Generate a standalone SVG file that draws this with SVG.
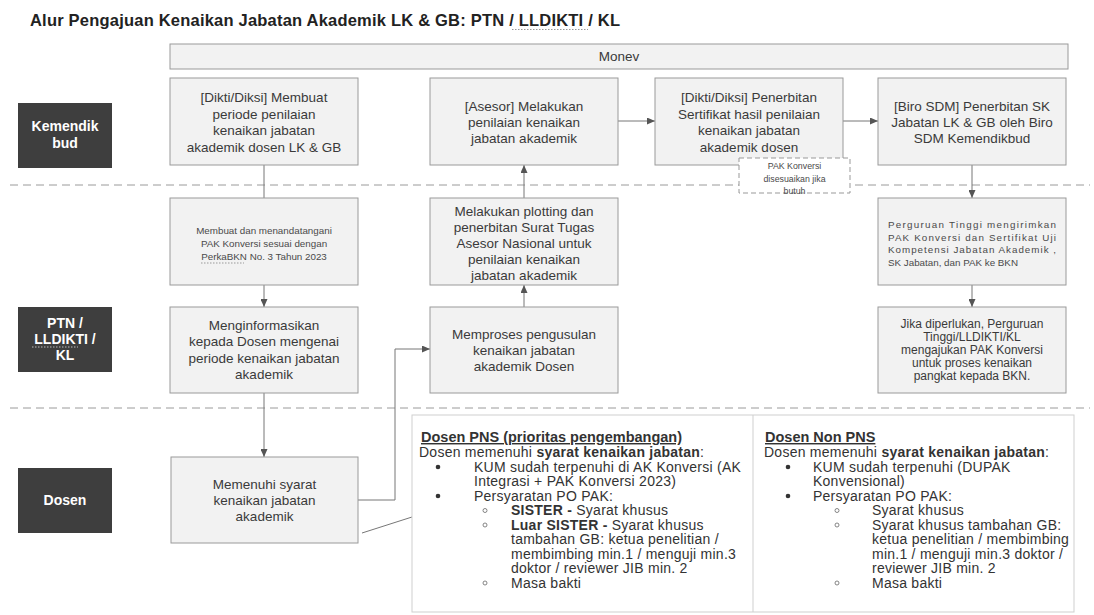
<svg xmlns="http://www.w3.org/2000/svg" width="1094" height="615" viewBox="0 0 1094 615">
<style>
text{font-family:"Liberation Sans",Arial,sans-serif;fill:#3a3a3a}
.title{font-size:16.5px;font-weight:bold;fill:#222}
.box{fill:#f2f2f2;stroke:#9a9a9a;stroke-width:1}
.t{font-size:13.5px;text-anchor:middle}
.s{font-size:9.8px;fill:#4a4a4a}
.sc{font-size:9.8px;fill:#4a4a4a;text-anchor:middle}
.m{font-size:12px;text-anchor:middle}
.lane{fill:#3e3e3e}
.lt{font-size:14px;font-weight:bold;fill:#fff;text-anchor:middle}
.sep{stroke:#9a9a9a;stroke-width:1;stroke-dasharray:8 5;fill:none}
.con{stroke:#777;stroke-width:1;fill:none}
.b{font-size:14px;fill:#333;letter-spacing:0.25px}
.h{font-size:14.5px;font-weight:bold;fill:#333;text-decoration:underline}
.bd{font-weight:bold}
.sq{stroke:#999;stroke-width:1;stroke-dasharray:1.5 1.5;fill:none}
</style>
<defs>
<marker id="ah" markerWidth="8" markerHeight="7" refX="8" refY="3.5" orient="auto" markerUnits="userSpaceOnUse">
<path d="M0,0 L8,3.5 L0,7 z" fill="#555"/>
</marker>
</defs>
<rect width="1094" height="615" fill="#fff"/>
<text class="title" x="30" y="26" textLength="590" lengthAdjust="spacing">Alur Pengajuan Kenaikan Jabatan Akademik LK &amp; GB: PTN / LLDIKTI / KL</text>
<path class="sq" d="M512,29.5 H588"/>

<g id="separators">
<line class="sep" x1="10" y1="185" x2="1090" y2="185"/>
<line class="sep" x1="10" y1="408" x2="1090" y2="408"/>
</g>

<g id="lane-kemendikbud">
<rect class="lane" x="18" y="103" width="94" height="65"/>
<text class="lt" x="65" y="131">Kemendik</text>
<text class="lt" x="65" y="148">bud</text>
</g>
<g id="lane-ptn">
<rect class="lane" x="18" y="307" width="94" height="65"/>
<text class="lt" x="65" y="328">PTN /</text>
<text class="lt" x="65" y="344">LLDIKTI /</text>
<text class="lt" x="65" y="360">KL</text>
<path d="M32,347 H78" stroke="#bbb" stroke-width="1" stroke-dasharray="1.5 1.5"/>
</g>
<g id="lane-dosen">
<rect class="lane" x="18" y="468" width="94" height="65"/>
<text class="lt" x="65" y="505">Dosen</text>
</g>

<g id="connectors">
<line class="con" x1="264" y1="165" x2="264" y2="198"/>
<line class="con" x1="264" y1="285" x2="264" y2="307" marker-end="url(#ah)"/>
<line class="con" x1="264" y1="393" x2="264" y2="457" marker-end="url(#ah)"/>
<polyline class="con" points="358,500 395,500 395,349 430,349" marker-end="url(#ah)"/>
<line class="con" x1="524" y1="307" x2="524" y2="285" marker-end="url(#ah)"/>
<line class="con" x1="524" y1="198" x2="524" y2="165" marker-end="url(#ah)"/>
<line class="con" x1="618" y1="121" x2="655" y2="121" marker-end="url(#ah)"/>
<line class="con" x1="843" y1="121" x2="878" y2="121" marker-end="url(#ah)"/>
<line class="con" x1="972" y1="165" x2="972" y2="198" marker-end="url(#ah)"/>
<line class="con" x1="972" y1="285" x2="972" y2="307" marker-end="url(#ah)"/>
<line class="con" x1="362" y1="533" x2="412" y2="517"/>
</g>

<g id="monev">
<rect class="box" x="170" y="44" width="898" height="25"/>
<text class="t" x="619" y="61">Monev</text>
</g>

<g id="n-dikti-periode">
<rect class="box" x="170" y="78" width="188" height="87"/>
<text class="t" x="264" y="102">[Dikti/Diksi] Membuat</text>
<text class="t" x="264" y="118.5">periode penilaian</text>
<text class="t" x="264" y="135">kenaikan jabatan</text>
<text class="t" x="264" y="151.5">akademik dosen LK &amp; GB</text>
</g>
<g id="n-asesor">
<rect class="box" x="430" y="78" width="188" height="87"/>
<text class="t" x="524" y="110.5">[Asesor] Melakukan</text>
<text class="t" x="524" y="126.5">penilaian kenaikan</text>
<text class="t" x="524" y="142.5">jabatan akademik</text>
</g>
<g id="n-sertifikat">
<rect class="box" x="655" y="78" width="188" height="87"/>
<text class="t" x="749" y="102">[Dikti/Diksi] Penerbitan</text>
<text class="t" x="749" y="118.5">Sertifikat hasil penilaian</text>
<text class="t" x="749" y="135">kenaikan jabatan</text>
<text class="t" x="749" y="151.5">akademik dosen</text>
</g>
<g id="n-biro">
<rect class="box" x="878" y="78" width="188" height="87"/>
<text class="t" x="972" y="110.5">[Biro SDM] Penerbitan SK</text>
<text class="t" x="972" y="126.5">Jabatan LK &amp; GB oleh Biro</text>
<text class="t" x="972" y="142.5">SDM Kemendikbud</text>
</g>
<g id="n-pak-note">
<rect x="739" y="158" width="111" height="35" fill="#fff" stroke="#999" stroke-width="1" stroke-dasharray="5 3"/>
<text class="sc" x="794.5" y="169" style="font-size:8.8px">PAK Konversi</text>
<text class="sc" x="794.5" y="181.5" style="font-size:8.8px">disesuaikan jika</text>
<text class="sc" x="794.5" y="194" style="font-size:8.8px">butuh</text>
</g>

<g id="n-membuat-pak">
<rect class="box" x="170" y="198" width="188" height="87"/>
<text class="sc" x="264" y="234">Membuat dan menandatangani</text>
<text class="sc" x="264" y="247">PAK Konversi sesuai dengan</text>
<text class="sc" x="264" y="260">PerkaBKN No. 3 Tahun 2023</text>
<path class="sq" d="M201,263 H244"/>
</g>
<g id="n-plotting">
<rect class="box" x="430" y="198" width="188" height="87"/>
<text class="t" x="524" y="215.5">Melakukan plotting dan</text>
<text class="t" x="524" y="231.5">penerbitan Surat Tugas</text>
<text class="t" x="524" y="247.5">Asesor Nasional untuk</text>
<text class="t" x="524" y="263.5">penilaian kenaikan</text>
<text class="t" x="524" y="279.5">jabatan akademik</text>
</g>
<g id="n-kirim-bkn">
<rect class="box" x="878" y="198" width="188" height="87"/>
<text class="s" x="888" y="228" textLength="168" lengthAdjust="spacing">Perguruan Tinggi mengirimkan</text>
<text class="s" x="888" y="240.5" textLength="168" lengthAdjust="spacing">PAK Konversi dan Sertifikat Uji</text>
<text class="s" x="888" y="253" textLength="168" lengthAdjust="spacing">Kompetensi Jabatan Akademik ,</text>
<text class="s" x="888" y="265.5">SK Jabatan, dan PAK ke BKN</text>
</g>

<g id="n-menginformasikan">
<rect class="box" x="170" y="307" width="188" height="86"/>
<text class="t" x="264" y="329.5">Menginformasikan</text>
<text class="t" x="264" y="346">kepada Dosen mengenai</text>
<text class="t" x="264" y="362.5">periode kenaikan jabatan</text>
<text class="t" x="264" y="379">akademik</text>
</g>
<g id="n-memproses">
<rect class="box" x="430" y="307" width="188" height="86"/>
<text class="t" x="524" y="338.5">Memproses pengusulan</text>
<text class="t" x="524" y="354.5">kenaikan jabatan</text>
<text class="t" x="524" y="370.5">akademik Dosen</text>
</g>
<g id="n-jika">
<rect class="box" x="878" y="307" width="188" height="86"/>
<text class="m" x="972" y="328">Jika diperlukan, Perguruan</text>
<text class="m" x="972" y="341">Tinggi/LLDIKTI/KL</text>
<text class="m" x="972" y="354">mengajukan PAK Konversi</text>
<text class="m" x="972" y="367">untuk proses kenaikan</text>
<text class="m" x="972" y="380">pangkat kepada BKN.</text>
</g>

<g id="n-memenuhi">
<rect class="box" x="171" y="457" width="187" height="86"/>
<text class="t" x="264.5" y="488.5">Memenuhi syarat</text>
<text class="t" x="264.5" y="504.5">kenaikan jabatan</text>
<text class="t" x="264.5" y="520.5">akademik</text>
</g>

<g id="n-syarat">
<rect x="412" y="415" width="662" height="197" fill="#fff" stroke="#cfcfcf" stroke-width="1"/>
<line x1="753" y1="415" x2="753" y2="612" stroke="#cfcfcf" stroke-width="1"/>
<g id="pns">
<text class="h" x="421" y="442">Dosen PNS (prioritas pengembangan)</text>
<text class="b" x="419" y="457">Dosen memenuhi <tspan class="bd">syarat kenaikan jabatan</tspan>:</text>
<circle cx="438" cy="467" r="2.3" fill="#333"/>
<text class="b" x="474" y="471.5">KUM sudah terpenuhi di AK Konversi (AK</text>
<text class="b" x="474" y="486">Integrasi + PAK Konversi 2023)</text>
<circle cx="438" cy="496" r="2.3" fill="#333"/>
<text class="b" x="474" y="500.5">Persyaratan PO PAK:</text>
<circle cx="485" cy="510.5" r="2" fill="none" stroke="#777" stroke-width="0.9"/>
<text class="b" x="511" y="515"><tspan class="bd">SISTER -</tspan> Syarat khusus</text>
<circle cx="485" cy="525" r="2" fill="none" stroke="#777" stroke-width="0.9"/>
<text class="b" x="511" y="529.5"><tspan class="bd">Luar SISTER -</tspan> Syarat khusus</text>
<text class="b" x="511" y="544">tambahan GB: ketua penelitian /</text>
<text class="b" x="511" y="558.5">membimbing min.1 / menguji min.3</text>
<text class="b" x="511" y="573">doktor / reviewer JIB min. 2</text>
<circle cx="485" cy="583" r="2" fill="none" stroke="#777" stroke-width="0.9"/>
<text class="b" x="511" y="587.5">Masa bakti</text>
</g>
<g id="non-pns">
<text class="h" x="765" y="442">Dosen Non PNS</text>
<text class="b" x="764" y="457">Dosen memenuhi <tspan class="bd">syarat kenaikan jabatan</tspan>:</text>
<circle cx="788" cy="467" r="2.3" fill="#333"/>
<text class="b" x="813" y="471.5">KUM sudah terpenuhi (DUPAK</text>
<text class="b" x="813" y="486">Konvensional)</text>
<circle cx="788" cy="496" r="2.3" fill="#333"/>
<text class="b" x="813" y="500.5">Persyaratan PO PAK:</text>
<circle cx="837" cy="510.5" r="2" fill="none" stroke="#777" stroke-width="0.9"/>
<text class="b" x="872" y="515">Syarat khusus</text>
<circle cx="837" cy="525" r="2" fill="none" stroke="#777" stroke-width="0.9"/>
<text class="b" x="872" y="529.5">Syarat khusus tambahan GB:</text>
<text class="b" x="872" y="544">ketua penelitian / membimbing</text>
<text class="b" x="872" y="558.5">min.1 / menguji min.3 doktor /</text>
<text class="b" x="872" y="573">reviewer JIB min. 2</text>
<circle cx="837" cy="583" r="2" fill="none" stroke="#777" stroke-width="0.9"/>
<text class="b" x="872" y="587.5">Masa bakti</text>
</g>
</g>
</svg>
